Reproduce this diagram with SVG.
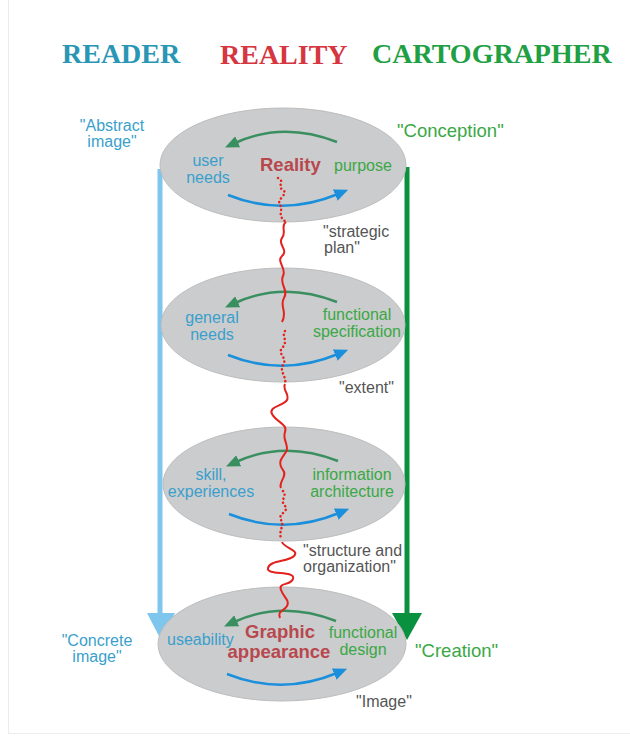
<svg xmlns="http://www.w3.org/2000/svg" width="630" height="746" viewBox="0 0 630 746">
<defs>
<style>
.hdr{font-family:"Liberation Serif",serif;font-weight:bold;font-size:28px}
.t{font-family:"Liberation Sans",Arial,sans-serif;font-size:16px}
.big{font-size:18.5px}
.rb{font-family:"Liberation Sans",Arial,sans-serif;font-size:18.5px;font-weight:bold;fill:#b8484e}
.bl{fill:#3a9fcc}
.gr{fill:#3aa845}
.gy{fill:#555555}
.ell{fill:#cbcccd;stroke:#bdbdbd;stroke-width:1}
.garc{fill:none;stroke:#3a8f60;stroke-width:2.5}
.barc{fill:none;stroke:#1a8fdc;stroke-width:2.5}
.red{fill:none;stroke:#e3221f;stroke-width:2;stroke-linejoin:round}
.dot{fill:none;stroke:#e3221f;stroke-width:2.5;stroke-dasharray:0.1 4;stroke-linecap:round}
</style>
<marker id="mg" markerUnits="userSpaceOnUse" markerWidth="14" markerHeight="12" refX="3" refY="6" orient="auto"><path d="M0,0 L14,6 L0,12 z" fill="#3a8f60"/></marker>
<marker id="mb" markerUnits="userSpaceOnUse" markerWidth="14" markerHeight="12" refX="3" refY="6" orient="auto"><path d="M0,0 L14,6 L0,12 z" fill="#1a8fdc"/></marker>
<g id="cyc">
<path class="garc" d="M54,-23 Q0,-44 -48,-22" marker-end="url(#mg)"/>
<path class="barc" d="M-55,30 Q0,52 55,29" marker-end="url(#mb)"/>
</g>
</defs>
<rect x="0" y="0" width="630" height="746" fill="#ffffff"/>
<path d="M8.5,0 V733.5 H630" fill="none" stroke="#ececec" stroke-width="1"/>

<g id="headers">
<text class="hdr" x="62" y="63" fill="#2a96b5">READER</text>
<text class="hdr" x="220" y="64" fill="#d63640">REALITY</text>
<text class="hdr" x="372" y="63" fill="#21a043">CARTOGRAPHER</text>
</g>

<g id="connectors">
<line x1="160" y1="169" x2="160" y2="614" stroke="#7ec6ee" stroke-width="5"/>
<path d="M147,613 L175,613 L161,640 z" fill="#7ec6ee"/>
<line x1="407" y1="167" x2="407" y2="614" stroke="#0a9140" stroke-width="5"/>
<path d="M392,613 L422,613 L407,640 z" fill="#0a9140"/>
</g>

<g id="node-reality">
<ellipse class="ell" cx="283" cy="165" rx="123" ry="57"/>
<use href="#cyc" x="283" y="165"/>
<text class="t bl" x="208" y="166" text-anchor="middle">user</text>
<text class="t bl" x="208" y="183" text-anchor="middle">needs</text>
<text class="rb" x="260" y="171">Reality</text>
<text class="t gr" x="334" y="171">purpose</text>
</g>

<g id="node-functional">
<ellipse class="ell" cx="283" cy="325" rx="122" ry="57"/>
<use href="#cyc" x="283" y="325"/>
<text class="t bl" x="212" y="323" text-anchor="middle">general</text>
<text class="t bl" x="212" y="340" text-anchor="middle">needs</text>
<text class="t gr" x="357" y="320" text-anchor="middle">functional</text>
<text class="t gr" x="357" y="337" text-anchor="middle">specification</text>
</g>

<g id="node-information">
<ellipse class="ell" cx="284" cy="484" rx="121" ry="57"/>
<use href="#cyc" x="284" y="484"/>
<text class="t bl" x="211" y="480" text-anchor="middle">skill,</text>
<text class="t bl" x="211" y="497" text-anchor="middle">experiences</text>
<text class="t gr" x="352" y="480" text-anchor="middle">information</text>
<text class="t gr" x="352" y="497" text-anchor="middle">architecture</text>
</g>

<g id="node-graphic">
<ellipse class="ell" cx="282" cy="644" rx="124" ry="57"/>
<use href="#cyc" x="282" y="644"/>
<text class="t bl" x="167" y="645">useability</text>
<text class="rb" x="280" y="638" text-anchor="middle">Graphic</text>
<text class="rb" x="279" y="658" text-anchor="middle">appearance</text>
<text class="t gr" x="363" y="638" text-anchor="middle">functional</text>
<text class="t gr" x="363" y="655" text-anchor="middle">design</text>
</g>

<g id="reality-line">
<path class="dot" d="M278,178 C286,182 276,186 283,190 C289,194 276,199 280,205 C284,210 276,215 286,222"/>
<path class="red" d="M286,222 C280,226 287,232 282,238 C277,244 289,250 282,256 C276,262 287,268 283,276 C279,284 289,290 284,298 C279,306 288,312 282,322"/>
<path class="dot" d="M285,331 C281,336 289,341 282,348 C277,354 288,358 283,365 C279,371 287,377 285,384"/>
<path class="red" d="M285,384 C282,390 290,394 287,400 C284,406 268,406 272,414 C276,422 288,424 285,432 C282,440 290,446 286,452 C282,458 277,462 283,470 C288,476 278,482 281,488"/>
<path class="dot" d="M283,491 C288,496 279,500 285,506 C290,511 277,514 281,520 C285,526 277,532 282,540"/>
<path class="red" d="M282,542 C284,548 300,550 294,556 C288,562 270,560 268,568 C266,576 296,570 293,579 C290,586 278,582 281,590 C284,598 290,600 287,606 C284,611 277,611 280,618"/>
</g>

<g id="labels">
<text class="t bl" x="112" y="131" text-anchor="middle">"Abstract</text>
<text class="t bl" x="112" y="147" text-anchor="middle">image"</text>
<text class="t gr big" x="397" y="137">"Conception"</text>
<text class="t gy" x="323" y="237">"strategic</text>
<text class="t gy" x="324" y="253">plan"</text>
<text class="t gy" x="339" y="393">"extent"</text>
<text class="t gy" x="303" y="556">"structure and</text>
<text class="t gy" x="303" y="572">organization"</text>
<text class="t bl" x="97" y="646" text-anchor="middle">"Concrete</text>
<text class="t bl" x="97" y="662" text-anchor="middle">image"</text>
<text class="t gr big" x="415" y="657">"Creation"</text>
<text class="t gy" x="356" y="707">"Image"</text>
</g>
</svg>
